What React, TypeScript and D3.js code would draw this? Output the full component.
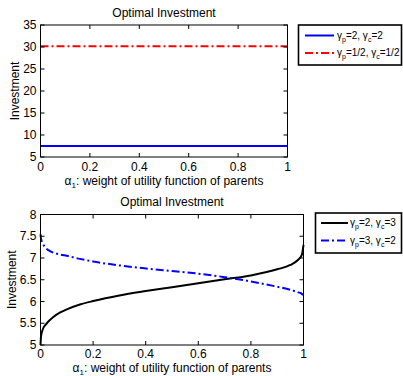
import React from 'react';
import * as d3 from 'd3';

// weight alpha_1 on the x axis
const alphaTop = [0, 1];
const topSeriesA = [7.5, 7.5]; // gamma_p=2, gamma_c=2
const topSeriesB = [30.15, 30.15]; // gamma_p=1/2, gamma_c=1/2

const alphaBottom = [0, 0.002, 0.01, 0.02, 0.03, 0.05, 0.075, 0.1, 0.15, 0.2, 0.3, 0.4, 0.5, 0.6, 0.7, 0.8, 0.9, 0.95, 0.98, 0.99, 0.995, 1];
const bottomSeriesA = [5.0, 5.2, 5.38, 5.47, 5.54, 5.65, 5.75, 5.82, 5.93, 6.01, 6.14, 6.24, 6.33, 6.42, 6.51, 6.6, 6.74, 6.84, 6.96, 7.03, 7.1, 7.3];
const bottomSeriesB = [7.55, 7.45, 7.32, 7.23, 7.18, 7.12, 7.08, 7.05, 6.98, 6.92, 6.83, 6.76, 6.7, 6.64, 6.56, 6.46, 6.34, 6.27, 6.21, 6.19, 6.17, 6.15];

const xTicks = [0, 0.2, 0.4, 0.6, 0.8, 1];
const yTicksTop = [5, 10, 15, 20, 25, 30, 35];
const yTicksBottom = [5, 5.5, 6, 6.5, 7, 7.5, 8];

const FONT = '"Liberation Sans", Arial, Helvetica, sans-serif';
const DASHDOT = '8 3 2 3';

interface Series {
  values: number[];
  color: string;
  dash?: string;
  label: [string, string, string, string]; // gp sub, gp val, gc sub, gc val
}

interface PanelProps {
  x0: number;
  x1: number;
  y0: number;
  y1: number;
  yDomain: [number, number];
  yTicks: number[];
  xs: number[];
  series: Series[];
  titleY: number;
  ylabelX: number;
  xtickDy: number;
  xlabelDy: number;
  legend: { x: number; y: number; w: number; h: number; lineX0: number; lineX1: number; rows: number[]; textX: number };
}

function Panel({ x0, x1, y0, y1, yDomain, yTicks, xs, series, titleY, ylabelX, xtickDy, xlabelDy, legend }: PanelProps) {
  const x = d3.scaleLinear().domain([0, 1]).range([x0, x1]);
  const y = d3.scaleLinear().domain(yDomain).range([y1, y0]);
  const tl = 4;
  const cx = (x0 + x1) / 2;
  return (
    <g fontFamily={FONT} fill="#000">
      <text x={cx} y={titleY} textAnchor="middle" fontSize={12}>Optimal Investment</text>
      {series.map((s, i) => {
        const line = d3
          .line<number>()
          .x((_, j) => x(xs[j]))
          .y((d) => y(d))
          .curve(d3.curveMonotoneX);
        return (
          <path key={i} d={line(s.values) ?? ''} fill="none" stroke={s.color} strokeWidth={2} strokeDasharray={s.dash} />
        );
      })}
      <rect x={x0} y={y0} width={x1 - x0} height={y1 - y0} fill="none" stroke="#000" strokeWidth={1} />
      {xTicks.map((t) => (
        <g key={'x' + t}>
          <line x1={x(t)} x2={x(t)} y1={y1} y2={y1 - tl} stroke="#000" />
          <line x1={x(t)} x2={x(t)} y1={y0} y2={y0 + tl} stroke="#000" />
          <text x={x(t)} y={y1 + xtickDy} textAnchor="middle" fontSize={12}>{String(t)}</text>
        </g>
      ))}
      {yTicks.map((t) => (
        <g key={'y' + t}>
          <line x1={x0} x2={x0 + tl} y1={y(t)} y2={y(t)} stroke="#000" />
          <line x1={x1} x2={x1 - tl} y1={y(t)} y2={y(t)} stroke="#000" />
          <text x={x0 - 4} y={y(t) + 4} textAnchor="end" fontSize={12}>{String(t)}</text>
        </g>
      ))}
      <text x={cx} y={y1 + xlabelDy} textAnchor="middle" fontSize={12}>
        α<tspan dy={3} fontSize={8}>1</tspan><tspan dy={-3}>: weight of utility function of parents</tspan>
      </text>
      <text transform={`translate(${ylabelX},${(y0 + y1) / 2}) rotate(-90)`} textAnchor="middle" fontSize={12}>Investment</text>
      <rect x={legend.x} y={legend.y} width={legend.w} height={legend.h} fill="#fff" stroke="#000" strokeWidth={1.6} />
      {series.map((s, i) => (
        <g key={'l' + i}>
          <line x1={legend.lineX0} x2={legend.lineX1} y1={legend.rows[i]} y2={legend.rows[i]} stroke={s.color} strokeWidth={2} strokeDasharray={s.dash} />
          <text x={legend.textX} y={legend.rows[i] + 3} fontSize={10}>
            γ<tspan dy={3} fontSize={7}>{s.label[0]}</tspan>
            <tspan dy={-3}>={s.label[1]}, γ</tspan>
            <tspan dy={3} fontSize={7}>{s.label[2]}</tspan>
            <tspan dy={-3}>={s.label[3]}</tspan>
          </text>
        </g>
      ))}
    </g>
  );
}

export default function App() {
  return (
    <svg width={403} height={376} style={{ position: 'absolute', left: 0, top: 0, background: '#fff' }}>
      <rect width={403} height={376} fill="#fff" />
      <Panel
        x0={40.5}
        x1={287.5}
        y0={25}
        y1={157}
        yDomain={[5, 35]}
        yTicks={yTicksTop}
        xs={alphaTop}
        titleY={17}
        ylabelX={19}
        xtickDy={14}
        xlabelDy={28}
        series={[
          { values: topSeriesA, color: '#0000ff', label: ['p', '2', 'c', '2'] },
          { values: topSeriesB, color: '#ff0000', dash: DASHDOT, label: ['p', '1/2', 'c', '1/2'] },
        ]}
        legend={{ x: 298.5, y: 25, w: 103, h: 40, lineX0: 305, lineX1: 334, rows: [35.5, 53], textX: 337 }}
      />
      <Panel
        x0={40.5}
        x1={303.5}
        y0={214.5}
        y1={345}
        yDomain={[5, 8]}
        yTicks={yTicksBottom}
        xs={alphaBottom}
        titleY={206}
        ylabelX={16}
        xtickDy={13}
        xlabelDy={27}
        series={[
          { values: bottomSeriesA, color: '#000000', label: ['p', '2', 'c', '3'] },
          { values: bottomSeriesB, color: '#0000ff', dash: DASHDOT, label: ['p', '3', 'c', '2'] },
        ]}
        legend={{ x: 315.5, y: 213, w: 86, h: 40, lineX0: 321, lineX1: 348, rows: [223, 240.5], textX: 350 }}
      />
    </svg>
  );
}
